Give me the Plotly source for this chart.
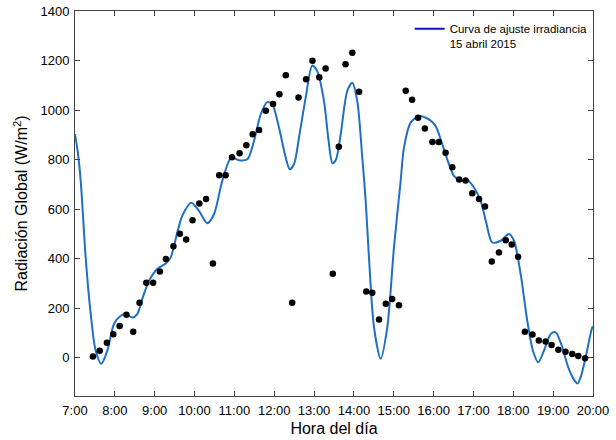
import plotly.graph_objects as go

# Measured points (hours, W/m2)
obs_t = [7.45, 7.62, 7.80, 7.96, 8.12, 8.29, 8.46, 8.62, 8.79, 8.96, 9.13, 9.28, 9.47, 9.63, 9.79,
         9.95, 10.12, 10.29, 10.46, 10.62, 10.78, 10.94, 11.13, 11.30, 11.46, 11.62, 11.79, 11.97,
         12.13, 12.29, 12.45, 12.61, 12.80, 12.96, 13.13, 13.29, 13.47, 13.62, 13.79, 13.96, 14.13,
         14.31, 14.46, 14.63, 14.80, 14.96, 15.13, 15.30, 15.46, 15.61, 15.78, 15.97, 16.13, 16.30,
         16.47, 16.64, 16.80, 16.97, 17.14, 17.29, 17.46, 17.64, 17.81, 17.96, 18.12, 18.29, 18.48,
         18.64, 18.81, 18.96, 19.13, 19.31, 19.48, 19.63, 19.80]
obs_v = [5, 28, 60, 94, 128, 173, 105, 222, 302, 302, 348, 398, 450, 500, 477,
         555, 622, 641, 380, 737, 737, 809, 825, 858, 902, 919, 997, 1024,
         1064, 1141, 222, 1051, 1124, 1199, 1132, 1168, 339, 852, 1185, 1231, 1074,
         267, 262, 154, 218, 237, 212, 1078, 1042, 969, 925, 871, 871, 827,
         769, 719, 715, 664, 641, 610, 388, 425, 474, 457, 407, 105, 93,
         69, 65, 51, 32, 24, 15, 7, -3]

# Fitted curve
fit_t = [7.000, 7.070, 7.143, 7.268, 7.394, 7.519, 7.660, 7.811, 7.979, 8.147, 8.272, 8.438, 8.563,
         8.689, 8.857, 9.065, 9.276, 9.401, 9.527, 9.692, 9.918, 10.112, 10.320, 10.488, 10.696,
         10.922, 11.115, 11.324, 11.492, 11.660, 11.826, 11.951, 12.119, 12.287, 12.388, 12.496,
         12.621, 12.789, 12.955, 13.080, 13.249, 13.361, 13.462, 13.550, 13.668, 13.833, 13.959,
         14.084, 14.210, 14.295, 14.378, 14.504, 14.671, 14.837, 15.005, 15.173, 15.256, 15.424,
         15.632, 15.883, 16.051, 16.177, 16.342, 16.511, 16.679, 16.844, 17.013, 17.181, 17.314,
         17.472, 17.683, 17.891, 18.017, 18.185, 18.350, 18.493, 18.626, 18.769, 18.937, 19.063,
         19.229, 19.379, 19.540, 19.610, 19.690, 19.815, 19.981, 20.000]
fit_v = [903, 830, 714, 404, 177, 28, -25, 28, 136, 169, 176, 162, 176,
         237, 310, 358, 380, 404, 479, 573, 626, 593, 543, 579, 714,
         808, 797, 801, 875, 982, 1032, 1023, 929, 808, 761, 781,
         888, 1050, 1180, 1157, 1036, 880, 785, 800, 902, 1077, 1110,
         1036, 808, 633, 404, 122, -5, 122, 445, 714, 848, 949,
         976, 962, 935, 882, 801, 734, 714, 718, 687, 633, 550,
         465, 472, 499, 472, 337, 149, 28, -19, 28, 95, 102,
         42, -39, -93, -105, -79, 1, 122, 125]

hours = list(range(7, 21))
hour_labels = [f"{h}:00" for h in hours]
y_ticks = [0, 200, 400, 600, 800, 1000, 1200, 1400]

FONT = "Liberation Sans, Arial"

fig = go.Figure()
fig.add_trace(go.Scatter(x=fit_t, y=fit_v, mode="lines",
                         line=dict(color="#1f6fc4", width=2, shape="spline", smoothing=0.8),
                         showlegend=False))
fig.add_trace(go.Scatter(x=obs_t, y=obs_v, mode="markers",
                         marker=dict(color="black", size=6.5), showlegend=False))
fig.add_trace(go.Scatter(x=[None], y=[None], mode="lines",
                         line=dict(color="#0a14c8", width=2),
                         name="Curva de ajuste irradiancia<br>15 abril 2015"))

axis_common = dict(showgrid=False, zeroline=False, showline=True, linecolor="#444444",
                   linewidth=1, mirror="ticks", ticks="inside", ticklen=5, tickcolor="#444444",
                   automargin=False,
                   tickfont=dict(family=FONT, size=13, color="black"))

fig.update_xaxes(range=[7, 20], tickvals=hours, ticktext=hour_labels, ticklabelstandoff=2,
                 title=dict(text="Hora del día", font=dict(family=FONT, size=16, color="black"),
                            standoff=6),
                 **axis_common)
fig.update_yaxes(range=[-155, 1400], tickvals=y_ticks, ticklabelstandoff=2,
                 title=dict(text="Radiación Global (W/m<sup>2</sup>)",
                            font=dict(family=FONT, size=16, color="black"), standoff=8),
                 **axis_common)

fig.update_layout(width=616, height=440, margin=dict(l=75, r=23, t=11, b=44),
                  plot_bgcolor="white", paper_bgcolor="white",
                  legend=dict(x=0.646, y=0.99, xanchor="left", yanchor="top", valign="top",
                              bgcolor="rgba(0,0,0,0)",
                              font=dict(family=FONT, size=11.5, color="black")))

fig.write_html("out.html")
